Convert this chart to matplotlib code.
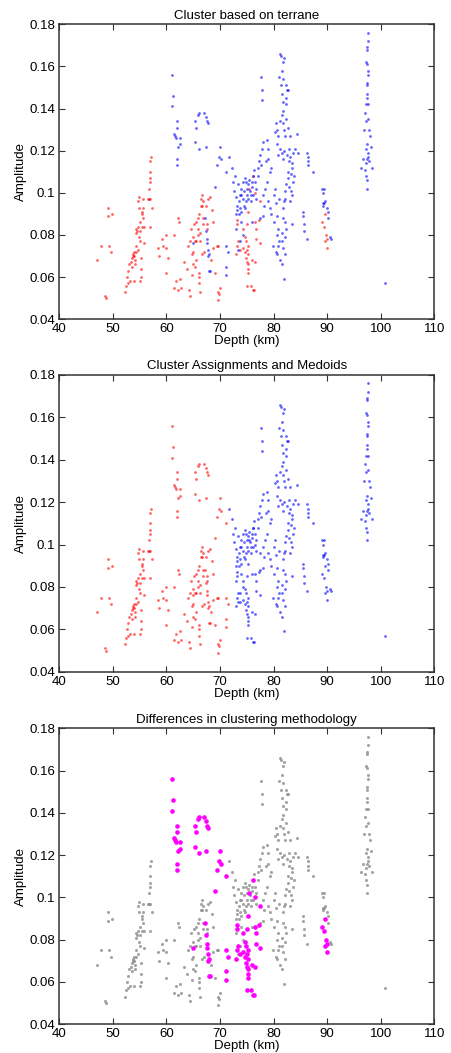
"""
Three stacked scatter panels: terrane clusters, k-medoid clusters and
the points where the two disagree.
"""
import numpy as np
import matplotlib
matplotlib.use("Agg")
import matplotlib.pyplot as plt

plt.rcParams.update({
    "font.family": ["Liberation Sans", "DejaVu Sans"],
    "font.size": 9.5,
    "axes.linewidth": 1.1,
    "axes.edgecolor": "#333333",
    "xtick.direction": "in",
    "ytick.direction": "in",
    "xtick.top": True,
    "ytick.right": True,
    "xtick.major.size": 4,
    "ytick.major.size": 4,
})

# ── data (depth km, amplitude) ────────────────────────────────────────────────
# red in both clusterings
both_red = [
    (47.1, 0.068), (47.7, 0.075), (48.7, 0.050), (48.5, 0.051), (49.0, 0.093),
    (49.0, 0.089), (49.9, 0.090), (49.3, 0.075), (49.6, 0.072),
    (52.3, 0.053), (52.4, 0.056), (52.6, 0.060), (52.8, 0.063), (52.9, 0.057),
    (53.1, 0.066), (53.4, 0.067), (53.5, 0.069), (53.7, 0.071), (53.8, 0.070),
    (53.9, 0.072), (54.1, 0.068), (54.2, 0.066), (54.0, 0.058), (54.3, 0.072),
    (54.4, 0.075), (54.3, 0.081), (54.4, 0.083), (54.6, 0.084), (54.7, 0.096),
    (54.9, 0.098), (55.1, 0.086), (54.8, 0.079), (55.0, 0.077), (55.2, 0.064),
    (55.3, 0.060), (55.1, 0.058), (55.4, 0.090), (55.6, 0.093), (55.7, 0.097),
    (55.8, 0.084), (55.9, 0.076), (55.4, 0.084), (56.7, 0.097), (56.8, 0.102),
    (56.9, 0.107), (56.9, 0.110), (57.0, 0.115), (57.1, 0.117), (57.0, 0.084),
    (57.3, 0.093), (56.6, 0.097), (57.0, 0.097), (55.7, 0.088), (54.0, 0.070),
    (53.6, 0.065), (55.0, 0.082), (54.5, 0.082), (55.5, 0.091), (54.8, 0.093),
    (56.9, 0.105), (53.2, 0.058), (54.6, 0.073), (55.3, 0.069),
    (58.5, 0.074), (58.7, 0.070), (59.1, 0.078), (59.4, 0.075), (59.9, 0.080),
    (60.0, 0.074), (60.3, 0.069), (59.9, 0.062), (61.4, 0.080), (61.8, 0.058),
    (61.5, 0.055), (62.1, 0.054), (62.2, 0.088), (62.4, 0.086), (62.6, 0.059),
    (62.8, 0.055), (63.3, 0.067), (64.4, 0.051), (63.8, 0.064),
    (64.1, 0.075), (64.4, 0.077), (64.5, 0.083), (64.7, 0.071), (64.9, 0.072),
    (65.0, 0.079), (65.2, 0.085), (65.3, 0.065), (65.5, 0.086), (65.6, 0.077),
    (65.8, 0.088), (65.9, 0.083), (66.0, 0.062), (66.0, 0.057), (66.1, 0.060),
    (66.2, 0.053), (66.3, 0.081), (66.4, 0.094), (66.4, 0.097), (66.6, 0.099),
    (66.6, 0.094), (66.8, 0.088), (66.9, 0.096), (66.9, 0.085), (67.1, 0.072),
    (67.4, 0.094), (67.6, 0.083), (67.8, 0.097), (68.3, 0.068), (68.5, 0.092),
    (68.6, 0.086), (68.7, 0.074), (69.1, 0.062), (69.4, 0.075), (69.6, 0.053),
    (69.7, 0.075), (69.7, 0.049), (70.0, 0.055), (69.8, 0.052), (66.3, 0.077),
    (65.3, 0.077), (65.6, 0.068), (64.7, 0.061), (66.6, 0.071), (65.9, 0.080),
    (65.0, 0.066), (67.5, 0.085), (66.1, 0.090), (64.2, 0.054), (68.1, 0.098),
]

# blue in both clusterings
both_blue = [
    (71.7, 0.117), (72.3, 0.112), (72.8, 0.108), (72.5, 0.105), (72.7, 0.101),
    (73.0, 0.098), (73.1, 0.094), (73.2, 0.092), (73.0, 0.090), (72.9, 0.083),
    (73.4, 0.104), (73.7, 0.099), (73.6, 0.096), (73.9, 0.091), (74.0, 0.102),
    (74.2, 0.105), (74.3, 0.097), (74.5, 0.094), (74.7, 0.107), (74.8, 0.105),
    (75.0, 0.102), (75.1, 0.099), (75.3, 0.104), (75.5, 0.106), (75.6, 0.101),
    (75.7, 0.096), (75.9, 0.103), (76.1, 0.108), (76.2, 0.099), (76.4, 0.111),
    (76.5, 0.105), (76.7, 0.102), (76.8, 0.097), (77.0, 0.108), (77.1, 0.112),
    (77.3, 0.115), (77.5, 0.118), (77.6, 0.113), (77.8, 0.121), (78.0, 0.124),
    (78.1, 0.099), (78.3, 0.094), (78.4, 0.102), (77.6, 0.155), (77.8, 0.149),
    (77.8, 0.144), (78.7, 0.125), (78.9, 0.121), (79.0, 0.116), (79.3, 0.110),
    (79.6, 0.090), (79.8, 0.075), (80.0, 0.099), (80.1, 0.086), (80.3, 0.102),
    (80.4, 0.072), (80.6, 0.089), (80.7, 0.080), (80.8, 0.075), (80.9, 0.083),
    (81.1, 0.077), (81.2, 0.068), (81.5, 0.066), (81.9, 0.059), (81.7, 0.088),
    (81.8, 0.093), (81.9, 0.096), (82.1, 0.097), (82.2, 0.101), (82.4, 0.104),
    (82.6, 0.107), (82.7, 0.110), (82.9, 0.115), (83.1, 0.117), (83.2, 0.109),
    (83.4, 0.112), (83.6, 0.105), (83.2, 0.101), (83.1, 0.096), (83.4, 0.085),
    (83.7, 0.119), (84.0, 0.121), (84.3, 0.128), (84.6, 0.119), (81.2, 0.121),
    (81.5, 0.119), (81.7, 0.116), (80.9, 0.118), (80.6, 0.123), (80.3, 0.129),
    (80.4, 0.133), (80.7, 0.130), (80.9, 0.127), (81.2, 0.134), (81.5, 0.137),
    (81.7, 0.139), (81.8, 0.133), (81.9, 0.130), (82.1, 0.127), (82.3, 0.142),
    (82.4, 0.145), (82.5, 0.149), (82.7, 0.149), (82.3, 0.151), (81.8, 0.154),
    (81.5, 0.158), (81.7, 0.162), (81.4, 0.165), (81.2, 0.166), (81.9, 0.164),
    (81.1, 0.155), (81.3, 0.151), (81.5, 0.147), (81.8, 0.143), (82.4, 0.135),
    (82.7, 0.131), (83.1, 0.127), (78.7, 0.105), (79.0, 0.096), (79.3, 0.093),
    (78.1, 0.089), (77.5, 0.088), (75.9, 0.086), (74.7, 0.093), (74.0, 0.086),
    (74.3, 0.080), (73.7, 0.077), (73.4, 0.073), (82.4, 0.083), (82.1, 0.079),
    (81.8, 0.074), (82.1, 0.071), (81.5, 0.077), (80.6, 0.071), (81.1, 0.097),
    (74.0, 0.099), (74.5, 0.101), (75.2, 0.097), (73.8, 0.093), (75.8, 0.099),
    (74.9, 0.096), (76.0, 0.105), (73.5, 0.090), (82.0, 0.120), (82.5, 0.118),
    (83.5, 0.114), (82.8, 0.121), (83.9, 0.108), (82.9, 0.103), (83.5, 0.099),
    (81.6, 0.081), (82.2, 0.086), (80.5, 0.095), (79.5, 0.112), (78.5, 0.115),
    (85.4, 0.091), (85.4, 0.089), (85.6, 0.085), (85.7, 0.082), (86.2, 0.078),
    (86.3, 0.119), (86.4, 0.117), (86.5, 0.115), (86.4, 0.113), (87.3, 0.110),
    (89.1, 0.102), (89.4, 0.102), (89.2, 0.095), (89.4, 0.095), (89.3, 0.094),
    (89.6, 0.096), (89.3, 0.100), (89.9, 0.093), (90.1, 0.091), (90.2, 0.088),
    (90.5, 0.079), (90.7, 0.078),
    (96.3, 0.112), (96.7, 0.116), (96.9, 0.130), (97.1, 0.138), (97.2, 0.162),
    (97.4, 0.161), (97.4, 0.168), (97.5, 0.169), (97.6, 0.172), (97.6, 0.176),
    (97.4, 0.152), (97.5, 0.151), (97.3, 0.142), (97.6, 0.142), (97.7, 0.135),
    (97.3, 0.134), (97.4, 0.123), (97.3, 0.121), (97.6, 0.119), (97.7, 0.117),
    (97.4, 0.116), (97.2, 0.114), (97.1, 0.111), (97.3, 0.108), (97.4, 0.106),
    (97.4, 0.102), (97.9, 0.130), (98.0, 0.127), (98.2, 0.122), (97.9, 0.115),
    (98.4, 0.112), (97.6, 0.158), (97.7, 0.156), (97.4, 0.147), (97.4, 0.145),
    (100.8, 0.057),
]

# terrane says blue, medoid clustering says red
terrane_blue_cluster_red = [
    (61.1, 0.156), (61.3, 0.146), (61.1, 0.141), (62.0, 0.134), (62.0, 0.131),
    (61.5, 0.128), (61.8, 0.126), (62.5, 0.126), (62.2, 0.122), (62.0, 0.116),
    (62.0, 0.113), (62.6, 0.123), (61.6, 0.127),
    (65.3, 0.134), (65.6, 0.131), (65.8, 0.137), (66.1, 0.138), (65.3, 0.124),
    (66.1, 0.121), (67.0, 0.138), (67.3, 0.136), (67.6, 0.134), (67.8, 0.133),
    (67.4, 0.122),
    (70.0, 0.122), (69.9, 0.117), (70.1, 0.116), (69.4, 0.113), (69.1, 0.103),
    (71.2, 0.110),
    (67.2, 0.088), (67.4, 0.082), (67.6, 0.078), (67.5, 0.076), (67.8, 0.073),
    (68.0, 0.071), (67.8, 0.070), (68.1, 0.063), (67.9, 0.063), (64.9, 0.076),
    (71.2, 0.075), (71.4, 0.072), (71.1, 0.065), (71.1, 0.061),
]

# terrane says red, medoid clustering says blue
terrane_red_cluster_blue = [
    (73.2, 0.087), (73.2, 0.085), (73.4, 0.077), (73.2, 0.075), (73.0, 0.071),
    (73.7, 0.073), (74.3, 0.083), (74.7, 0.079), (75.0, 0.085), (75.2, 0.091),
    (74.8, 0.077), (74.7, 0.072), (74.8, 0.069), (75.0, 0.067), (75.3, 0.066),
    (75.3, 0.064), (75.3, 0.062), (75.0, 0.056), (75.7, 0.056), (76.2, 0.054),
    (76.4, 0.054), (76.0, 0.068), (76.5, 0.067), (75.3, 0.075), (75.5, 0.102),
    (76.2, 0.108), (76.5, 0.086), (76.8, 0.083), (76.7, 0.078), (77.2, 0.087),
    (77.5, 0.076), (77.4, 0.096), (76.5, 0.100), (75.3, 0.071), (75.0, 0.073),
    (74.3, 0.074),
    (89.1, 0.086), (89.4, 0.084), (89.6, 0.090), (89.7, 0.080), (89.6, 0.077),
    (89.9, 0.074), (90.0, 0.078),
]

titles = ["Cluster based on terrane",
          "Cluster Assignments and Medoids",
          "Differences in clustering methodology"]
x_ticks = [40, 50, 60, 70, 80, 90, 100, 110]
y_ticks = [0.04, 0.06, 0.08, 0.1, 0.12, 0.14, 0.16, 0.18]
y_tick_labels = ["0.04", "0.06", "0.08", "0.1", "0.12", "0.14", "0.16", "0.18"]

RED, BLUE, GRAY, MAGENTA = "#ff0000", "#0000ff", "#8f8f8f", "#ff00ff"


def xy(pts):
    a = np.array(pts)
    return a[:, 0], a[:, 1]


def dots(ax, pts, color, s=4, alpha=0.6):
    x, y = xy(pts)
    ax.scatter(x, y, s=s, c=color, alpha=alpha, linewidths=0, marker="o")


def style(ax, title):
    ax.set_xlim(40, 110)
    ax.set_ylim(0.04, 0.18)
    ax.set_xticks(x_ticks)
    ax.set_yticks(y_ticks)
    ax.set_yticklabels(y_tick_labels)
    ax.tick_params(labelsize=9.5, pad=3, color="#333333")
    ax.set_title(title, fontsize=9.5, pad=4)
    ax.set_xlabel("Depth (km)", fontsize=9.5, labelpad=0)
    ax.set_ylabel("Amplitude", fontsize=9.5, labelpad=2)


fig = plt.figure(figsize=(4.51, 10.53), dpi=100)
ax1 = fig.add_axes([0.1315, 0.6968, 0.8315, 0.2801])
ax2 = fig.add_axes([0.1315, 0.3621, 0.8315, 0.2818])
ax3 = fig.add_axes([0.1315, 0.0273, 0.8315, 0.2811])

# panel 1: terrane labels
dots(ax1, both_red + terrane_red_cluster_blue, RED)
dots(ax1, both_blue + terrane_blue_cluster_red, BLUE)
style(ax1, titles[0])

# panel 2: medoid labels
dots(ax2, both_red + terrane_blue_cluster_red, RED)
dots(ax2, both_blue + terrane_red_cluster_blue, BLUE)
style(ax2, titles[1])

# panel 3: agreement in gray, disagreement in magenta
dots(ax3, both_red + both_blue, GRAY, s=5, alpha=0.8)
dots(ax3, terrane_blue_cluster_red + terrane_red_cluster_blue, MAGENTA,
     s=11, alpha=1.0)
style(ax3, titles[2])

fig.savefig("out.png", dpi=100)
plt.close(fig)
